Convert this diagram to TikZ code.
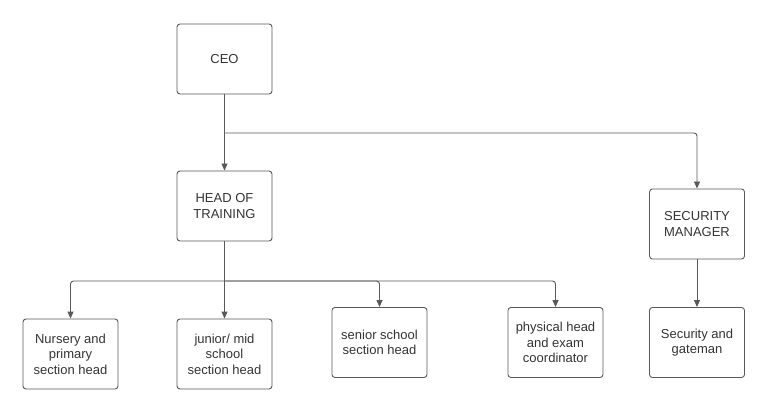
\documentclass[tikz,border=0pt]{standalone}
\usepackage{fontspec}
\setmainfont{Liberation Sans}
\usetikzlibrary{arrows.meta}
\definecolor{linegray}{HTML}{595959}
\definecolor{textgray}{HTML}{333333}
\tikzset{
  role/.style={draw=linegray, line width=0.9pt, rounded corners=3pt,
    minimum width=95pt, minimum height=70pt, inner sep=2pt, align=center,
    text=textgray, font=\fontsize{13}{15.5}\selectfont},
  link/.style={draw=linegray, line width=0.9pt, rounded corners=3pt,
    -{Triangle[length=7pt,width=6pt]}}
}
\begin{document}
\begin{tikzpicture}[x=1pt, y=-1pt]
\useasboundingbox (0,0) rectangle (768,414);
% top levels
\node[role] (ceo) at (224.5, 59) {CEO};
\node[role] (head) at (224.5, 206) {HEAD OF\\TRAINING};
\node[role] (secmgr) at (697, 224) {SECURITY\\MANAGER};
% staff row
\node[role] (nursery) at (70.5, 354) {Nursery and\\primary\\section head};
\node[role] (junior) at (224.5, 354) {junior/ mid\\school\\section head};
\node[role] (senior) at (379.5, 342.5) {senior school\\section head};
\node[role] (physical) at (555.5, 342.5) {physical head\\and exam\\coordinator};
\node[role] (gateman) at (697, 342.5) {Security and\\gateman};
% connectors
\coordinate (topsplit) at (224.5, 133);
\coordinate (lowsplit) at (224.5, 281);
\draw[link] (ceo.south) -- (head.north);
\draw[link] (topsplit) -| (secmgr.north);
\draw[link] (head.south) -- (junior.north);
\foreach \n in {nursery, senior, physical}
  \draw[link] (lowsplit) -| (\n.north);
\draw[link] (secmgr.south) -- (gateman.north);
\end{tikzpicture}
\end{document}
